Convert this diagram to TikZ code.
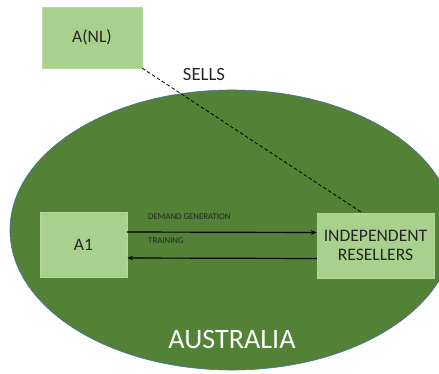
\documentclass[tikz,border=0pt]{standalone}
\usepackage{fontspec}
\setmainfont{Carlito}
\usetikzlibrary{shapes.geometric, arrows.meta, positioning}
\definecolor{regiongreen}{HTML}{538135}
\definecolor{boxgreen}{HTML}{A9D18E}
\definecolor{rimblue}{HTML}{41719C}

\begin{document}
\begin{tikzpicture}[
    x=0.03cm, y=-0.03cm,
    region/.style={ellipse, draw=rimblue, fill=regiongreen, line width=0.5pt,
                minimum width=13.32cm, minimum height=8.4cm, inner sep=0pt},
    box/.style={rectangle, fill=boxgreen, draw=boxgreen!85!white, align=center,
                inner sep=0pt, text=black!85, font=\fontsize{15}{16.5}\selectfont},
    arrow/.style={-{Stealth[length=5pt, width=4pt]}, line width=1pt},
    tag/.style={font=\fontsize{7.5}{8}\selectfont, anchor=west, inner sep=0pt, text=black!85}
]
\useasboundingbox (0,0) rectangle (439,374);
\clip (0,0) rectangle (439,374);

% === REGION ===
\node[region] (aus) at (232,230) {};
\node[text=white, font=\fontsize{24}{26}\selectfont] (ausname) at (232,339) {AUSTRALIA};

% === BOXES ===
\node[box, minimum width=3cm, minimum height=1.83cm] (anl) at (92,37.5) {A(NL)};
\node[box, minimum width=2.61cm, minimum height=1.95cm] (a1) at (83.5,245) {A1};
\node[box, minimum width=3.51cm, minimum height=1.95cm] (res) at (375.5,245.5) {INDEPENDENT\\RESELLERS};

% === LABELS ===
\node[font=\fontsize{16}{18}\selectfont, text=black!85] (sells) at (204,74) {SELLS};
\node[tag] (demand) at (148,217) {DEMAND GENERATION};
\node[tag] (train) at (148,241) {TRAINING};

% === ARROWS ===
\draw[arrow] ([yshift=0.39cm]a1.east) -- ([yshift=0.39cm]res.west);
\draw[arrow] ([yshift=-0.39cm]res.west) -- ([yshift=-0.39cm]a1.east);
\draw[dashed, dash pattern=on 3pt off 2pt, line width=0.7pt] (anl.south east) -- ([xshift=-0.4cm]res.north);

\end{tikzpicture}
\end{document}
